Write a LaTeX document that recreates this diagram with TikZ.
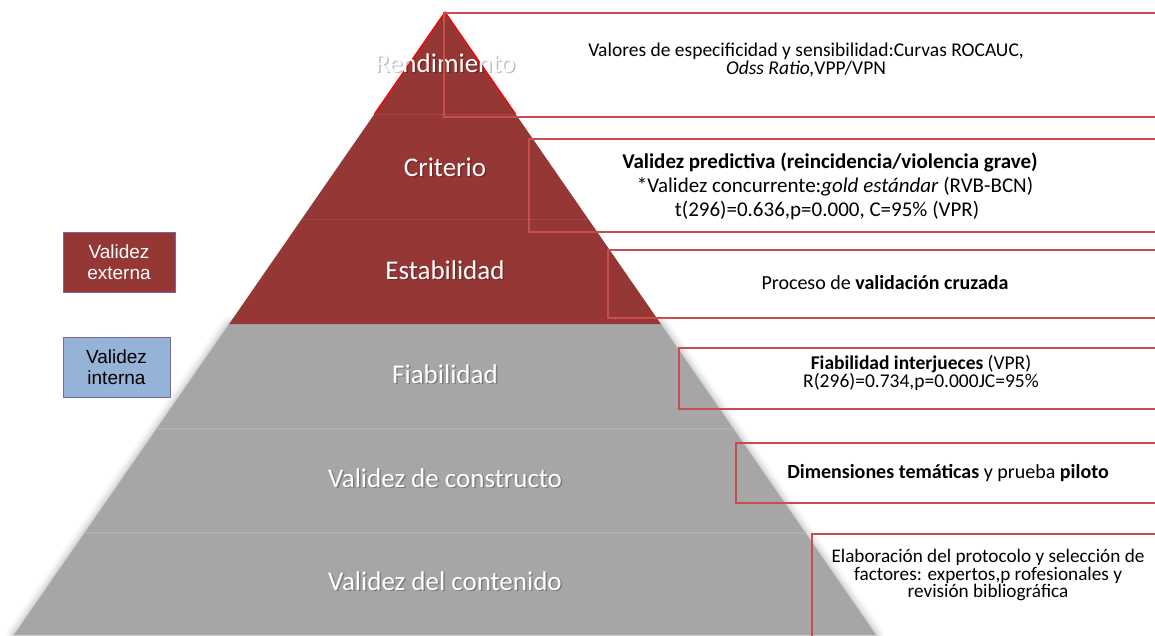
\documentclass[tikz,border=0pt]{standalone}
\usepackage{fontspec}
\setmainfont{Carlito}
\newfontfamily\arialf{Liberation Sans}
\definecolor{tierred}{RGB}{149,55,53}
\definecolor{tiersep}{RGB}{160,70,68}
\definecolor{tiergray}{RGB}{166,166,166}
\definecolor{graysep}{RGB}{175,175,175}
\definecolor{boxred}{RGB}{200,78,76}
\definecolor{extfill}{RGB}{149,55,53}
\definecolor{intfill}{RGB}{149,179,215}
\definecolor{sidebox}{RGB}{128,100,162}
\tikzset{
  tierlabel/.style={text=white, font=\fontsize{27}{28}\selectfont, inner sep=0pt},
  tiershadow/.style={text=black, opacity=0.25, font=\fontsize{27}{28}\selectfont, inner sep=0pt},
  boxline/.style={draw=boxred, line width=1.5pt},
  boxtext/.style={align=center, font=\fontsize{19.5}{16}\selectfont, inner sep=0pt, text=black},
  sidelabel/.style={draw=sidebox, line width=0.8pt, align=center, inner sep=0pt,
    font=\arialf\fontsize{19}{21}\selectfont}
}
\begin{document}
\begin{tikzpicture}[x=1pt,y=-1pt]
\useasboundingbox (0,0) rectangle (1155,635);
% ---- gray lower part with soft edges
\foreach \w/\o in {16/0.08,11/0.12,7/0.16,3/0.22}
  \draw[draw=tiergray, line width=\w pt, opacity=\o, line join=round]
    (229.1,324) -- (660.9,324) -- (876.1,635) -- (13.9,635) -- cycle;
\fill[tiergray] (229.1,324) -- (660.9,324) -- (876.1,635) -- (13.9,635) -- cycle;
\draw[graysep, line width=2pt] (156.4,429) -- (733.6,429);
\draw[graysep, line width=2pt] (84.5,533) -- (805.5,533);
% ---- red upper part
\fill[tierred] (445,12) -- (660.9,324) -- (229.1,324) -- cycle;
\draw[tiersep, line width=1pt] (374.4,114) -- (515.6,114);
\draw[tiersep, line width=1pt] (301.8,219) -- (588.2,219);
\draw[red, line width=1.2pt] (374.4,114) -- (445,12) -- (515.6,114);
% ---- tier labels
\foreach \t/\y/\n in {Rendimiento/63/rend, Criterio/167/crit, Estabilidad/270/esta,
  Fiabilidad/374/fiab, Validez de constructo/478/cons, Validez del contenido/581/cont}{
  \node[tiershadow] at (446.5,\y+1.5) {\t};
  \node[tierlabel] (\n) at (445,\y) {\t};
}
% ---- right boxes
\draw[boxline] (1160,13) -| (444,117) -- (1160,117);
\draw[boxline] (1160,139) -| (529,232) -- (1160,232);
\draw[boxline] (1160,250) -| (608,318) -- (1160,318);
\draw[boxline] (1160,348) -| (679,409) -- (1160,409);
\draw[boxline] (1160,443) -| (736,503) -- (1160,503);
\draw[boxline] (1160,534) -| (812,640);
\node[boxtext] (t1) at (806,60) {Valores de especificidad y sensibilidad:Curvas ROCAUC,\\\textit{Odss Ratio,}VPP/VPN};
\node[boxtext, font=\fontsize{21}{22}\selectfont, anchor=base] (t2a) at (830,168) {\textbf{Validez predictiva (reincidencia/violencia grave)}};
\node[boxtext, font=\fontsize{21}{22}\selectfont, anchor=base] (t2b) at (835,192) {*Validez concurrente:\textit{gold estándar} (RVB-BCN)};
\node[boxtext, font=\fontsize{21}{22}\selectfont, anchor=base] (t2c) at (827,216) {t(296)=0.636,p=0.000, C=95\% (VPR)};
\node[boxtext, font=\fontsize{20}{22}\selectfont] (t3) at (885,283) {Proceso de \textbf{validación cruzada}};
\node[boxtext, font=\fontsize{19.5}{15}\selectfont] (t4) at (921,373) {\textbf{Fiabilidad interjueces} (VPR)\\R(296)=0.734,p=0.000JC=95\%};
\node[boxtext, font=\fontsize{20}{22}\selectfont] (t5) at (948,473) {\textbf{Dimensiones temáticas} y prueba \textbf{piloto}};
\node[boxtext, font=\fontsize{19.2}{16}\selectfont] (t6) at (988,575) {Elaboración del protocolo y selección de\\factores: expertos,p rofesionales y\\revisión bibliográfica};
% ---- left boxes
\node[sidelabel, fill=extfill, text=white, minimum width=112pt, minimum height=60pt] (ext) at (119,262) {Validez\\externa};
\node[sidelabel, fill=intfill, text=black, minimum width=107pt, minimum height=60pt] (int) at (116.5,367) {Validez\\interna};
\end{tikzpicture}
\end{document}
